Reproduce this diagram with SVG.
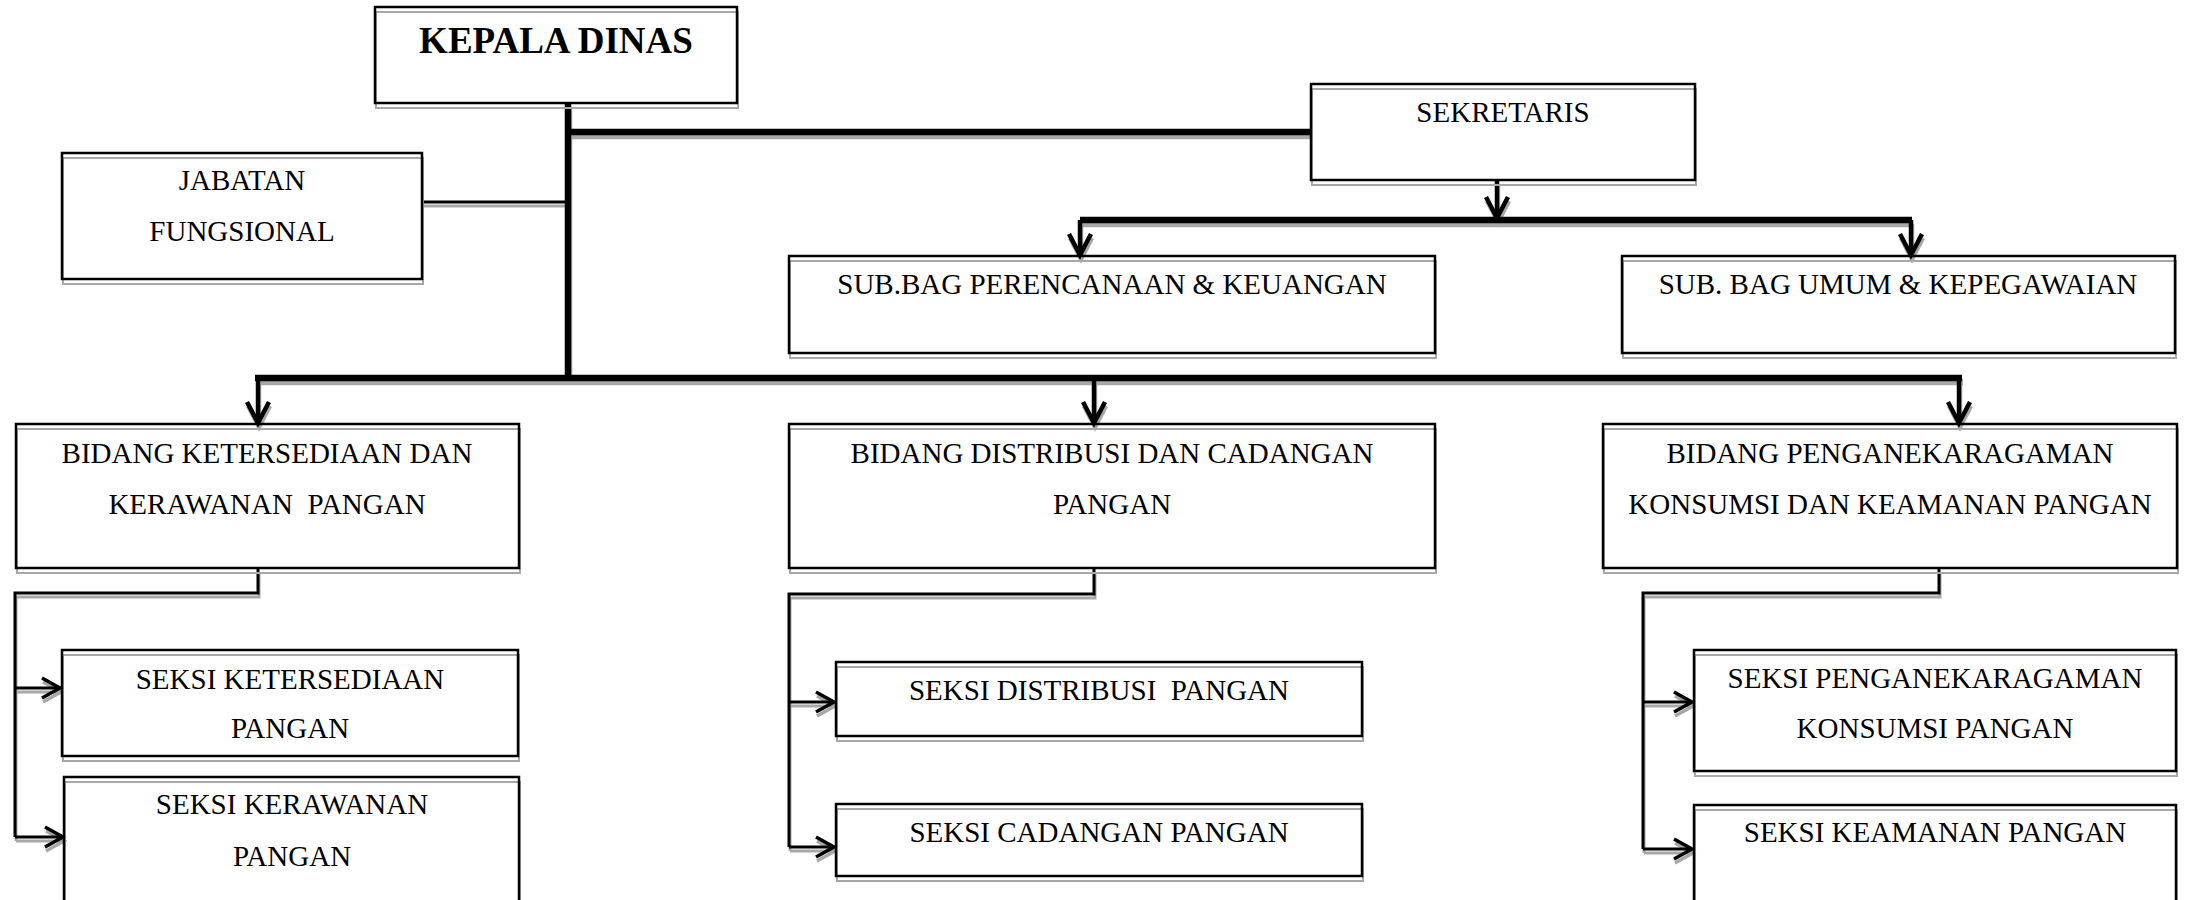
<svg xmlns="http://www.w3.org/2000/svg" width="2185" height="900" viewBox="0 0 2185 900">
<style>
.box{fill:none;stroke:#000;stroke-width:2.5}
.sh{fill:none;stroke:#a8a8a8;stroke-width:2}
.t{font-family:"Liberation Serif","Times New Roman",serif;font-size:29px;fill:#000;text-anchor:middle}
.tb{font-family:"Liberation Serif","Times New Roman",serif;font-size:37px;font-weight:bold;fill:#000;text-anchor:middle}
.thick{fill:none;stroke:#000;stroke-width:6.5}
.mid{fill:none;stroke:#000;stroke-width:4.5}
.thin{fill:none;stroke:#000;stroke-width:3}
.shadow .thick,.shadow .mid,.shadow .thin{stroke:#a8a8a8}
</style>
<defs>
<marker id="ad" markerUnits="userSpaceOnUse" viewBox="-24 -14 28 28" markerWidth="28" markerHeight="28" refX="0" refY="0" orient="auto" overflow="visible">
<path d="M-21,-11 L0,0 L-21,11" fill="none" stroke="#000" stroke-width="4.5"/>
</marker>
<marker id="adg" markerUnits="userSpaceOnUse" viewBox="-24 -14 28 28" markerWidth="28" markerHeight="28" refX="0" refY="0" orient="auto" overflow="visible">
<path d="M-21,-11 L0,0 L-21,11" fill="none" stroke="#a8a8a8" stroke-width="4.5"/>
</marker>
<marker id="ar" markerUnits="userSpaceOnUse" viewBox="-22 -12 26 24" markerWidth="26" markerHeight="24" refX="0" refY="0" orient="auto" overflow="visible">
<path d="M-18,-10 L0,0 L-18,10" fill="none" stroke="#000" stroke-width="3.5"/>
</marker>
<marker id="arg" markerUnits="userSpaceOnUse" viewBox="-22 -12 26 24" markerWidth="26" markerHeight="24" refX="0" refY="0" orient="auto" overflow="visible">
<path d="M-18,-10 L0,0 L-18,10" fill="none" stroke="#a8a8a8" stroke-width="3.5"/>
</marker>
</defs>
<rect width="2185" height="900" fill="#fff"/>

<g id="connectors-shadow" class="shadow" transform="translate(1,4)">
<path class="thick" d="M568,103 V381"/>
<path class="thick" d="M568,132 H1311"/>
<path class="thin" d="M422,202 H568"/>
<path class="thick" d="M1080,220 H1912"/>
<path class="thick" d="M255,378 H1962"/>
<path class="mid" d="M1497,180 V218" marker-end="url(#adg)"/>
<path class="mid" d="M1080,220 V255" marker-end="url(#adg)"/>
<path class="mid" d="M1911,220 V255" marker-end="url(#adg)"/>
<path class="mid" d="M258,378 V423" marker-end="url(#adg)"/>
<path class="mid" d="M1094,378 V423" marker-end="url(#adg)"/>
<path class="mid" d="M1959,378 V423" marker-end="url(#adg)"/>
<path class="thin" d="M258,568 V593 H15 V837"/>
<path class="thin" d="M15,688 H60" marker-end="url(#arg)"/>
<path class="thin" d="M15,837 H63" marker-end="url(#arg)"/>
<path class="thin" d="M1094,568 V594 H789 V847"/>
<path class="thin" d="M789,702 H834" marker-end="url(#arg)"/>
<path class="thin" d="M789,847 H834" marker-end="url(#arg)"/>
<path class="thin" d="M1939,568 V593 H1643 V849"/>
<path class="thin" d="M1643,702 H1692" marker-end="url(#arg)"/>
<path class="thin" d="M1643,849 H1692" marker-end="url(#arg)"/>
</g>

<g id="connectors">
<path class="thick" d="M568,103 V381"/>
<path class="thick" d="M568,132 H1311"/>
<path class="thin" d="M422,202 H568"/>
<path class="thick" d="M1080,220 H1912"/>
<path class="thick" d="M255,378 H1962"/>
<path class="mid" d="M1497,180 V218" marker-end="url(#ad)"/>
<path class="mid" d="M1080,220 V255" marker-end="url(#ad)"/>
<path class="mid" d="M1911,220 V255" marker-end="url(#ad)"/>
<path class="mid" d="M258,378 V423" marker-end="url(#ad)"/>
<path class="mid" d="M1094,378 V423" marker-end="url(#ad)"/>
<path class="mid" d="M1959,378 V423" marker-end="url(#ad)"/>
<path class="thin" d="M258,568 V593 H15 V837"/>
<path class="thin" d="M15,688 H60" marker-end="url(#ar)"/>
<path class="thin" d="M15,837 H63" marker-end="url(#ar)"/>
<path class="thin" d="M1094,568 V594 H789 V847"/>
<path class="thin" d="M789,702 H834" marker-end="url(#ar)"/>
<path class="thin" d="M789,847 H834" marker-end="url(#ar)"/>
<path class="thin" d="M1939,568 V593 H1643 V849"/>
<path class="thin" d="M1643,702 H1692" marker-end="url(#ar)"/>
<path class="thin" d="M1643,849 H1692" marker-end="url(#ar)"/>
</g>

<g id="kepala-dinas">
<rect class="sh" x="376" y="12" width="362" height="96"/>
<rect class="box" x="375" y="7" width="362" height="96"/>
<text class="tb" x="556" y="53">KEPALA DINAS</text>
</g>

<g id="jabatan-fungsional">
<rect class="sh" x="63" y="158" width="360" height="126"/>
<rect class="box" x="62" y="153" width="360" height="126"/>
<text class="t" x="242" y="190">JABATAN</text>
<text class="t" x="242" y="241">FUNGSIONAL</text>
</g>

<g id="sekretaris">
<rect class="sh" x="1312" y="89" width="384" height="96"/>
<rect class="box" x="1311" y="84" width="384" height="96"/>
<text class="t" x="1503" y="122">SEKRETARIS</text>
</g>

<g id="subbag-perencanaan">
<rect class="sh" x="790" y="261" width="646" height="97"/>
<rect class="box" x="789" y="256" width="646" height="97"/>
<text class="t" x="1112" y="294">SUB.BAG PERENCANAAN &amp; KEUANGAN</text>
</g>

<g id="subbag-umum">
<rect class="sh" x="1623" y="261" width="553" height="97"/>
<rect class="box" x="1622" y="256" width="553" height="97"/>
<text class="t" x="1898" y="294">SUB. BAG UMUM &amp; KEPEGAWAIAN</text>
</g>

<g id="bidang-ketersediaan">
<rect class="sh" x="17" y="429" width="503" height="144"/>
<rect class="box" x="16" y="424" width="503" height="144"/>
<text class="t" x="267" y="463">BIDANG KETERSEDIAAN DAN</text>
<text class="t" x="267" y="514" xml:space="preserve">KERAWANAN  PANGAN</text>
</g>

<g id="bidang-distribusi">
<rect class="sh" x="790" y="429" width="646" height="144"/>
<rect class="box" x="789" y="424" width="646" height="144"/>
<text class="t" x="1112" y="463">BIDANG DISTRIBUSI DAN CADANGAN</text>
<text class="t" x="1112" y="514">PANGAN</text>
</g>

<g id="bidang-penganekaragaman">
<rect class="sh" x="1604" y="429" width="574" height="144"/>
<rect class="box" x="1603" y="424" width="574" height="144"/>
<text class="t" x="1890" y="463">BIDANG PENGANEKARAGAMAN</text>
<text class="t" x="1890" y="514">KONSUMSI DAN KEAMANAN PANGAN</text>
</g>

<g id="seksi-ketersediaan">
<rect class="sh" x="63" y="655" width="456" height="106"/>
<rect class="box" x="62" y="650" width="456" height="106"/>
<text class="t" x="290" y="689">SEKSI KETERSEDIAAN</text>
<text class="t" x="290" y="738">PANGAN</text>
</g>

<g id="seksi-kerawanan">
<rect class="sh" x="65" y="782" width="455" height="130"/>
<rect class="box" x="64" y="777" width="455" height="130"/>
<text class="t" x="292" y="814">SEKSI KERAWANAN</text>
<text class="t" x="292" y="866">PANGAN</text>
</g>

<g id="seksi-distribusi">
<rect class="sh" x="837" y="667" width="526" height="74"/>
<rect class="box" x="836" y="662" width="526" height="74"/>
<text class="t" x="1099" y="700" xml:space="preserve">SEKSI DISTRIBUSI  PANGAN</text>
</g>

<g id="seksi-cadangan">
<rect class="sh" x="837" y="809" width="526" height="72"/>
<rect class="box" x="836" y="804" width="526" height="72"/>
<text class="t" x="1099" y="842">SEKSI CADANGAN PANGAN</text>
</g>

<g id="seksi-penganekaragaman">
<rect class="sh" x="1695" y="655" width="482" height="121"/>
<rect class="box" x="1694" y="650" width="482" height="121"/>
<text class="t" x="1935" y="688">SEKSI PENGANEKARAGAMAN</text>
<text class="t" x="1935" y="738">KONSUMSI PANGAN</text>
</g>

<g id="seksi-keamanan">
<rect class="sh" x="1695" y="810" width="482" height="110"/>
<rect class="box" x="1694" y="805" width="482" height="110"/>
<text class="t" x="1935" y="842">SEKSI KEAMANAN PANGAN</text>
</g>
</svg>
